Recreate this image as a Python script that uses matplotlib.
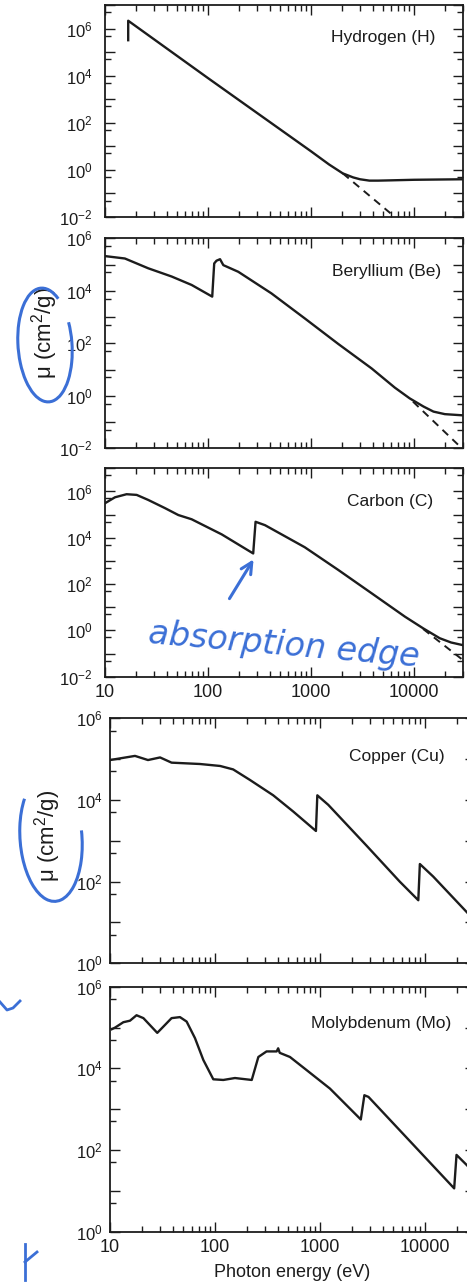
import numpy as np
import matplotlib
matplotlib.use('Agg')
import matplotlib.pyplot as plt
from matplotlib.ticker import LogLocator, FuncFormatter, NullFormatter, FixedLocator
from matplotlib.patches import Arc

plt.rcParams['font.family'] = ['Liberation Sans', 'DejaVu Sans']
plt.rcParams['mathtext.fontset'] = 'custom'
plt.rcParams['mathtext.rm'] = 'Liberation Sans'
plt.rcParams['mathtext.it'] = 'Liberation Sans:italic'
plt.rcParams['mathtext.bf'] = 'Liberation Sans:bold'

# --- data (eV, cm^2/g) ---
h_energy = [16.8, 16.8, 100, 1000, 1500, 2040, 2570, 3000, 3700, 4500, 6000, 10000, 30000]
h_mu = [3.2e5, 2.15e6, 7.9e3, 6.2, 1.7, 0.71, 0.48, 0.4, 0.35, 0.35, 0.36, 0.38, 0.4]
h_pe_energy = [2040, 6550]
h_pe_mu = [0.71, 0.01]

be_energy = [10, 15.6, 26.3, 44.4, 69.4, 110, 115, 121, 131, 141, 197, 413, 871,
             1840, 3890, 6530, 9100, 12400, 15500, 20000, 30000]
be_mu = [2.1e5, 1.7e5, 7.2e4, 3.5e4, 1.67e4, 6.0e3, 1.1e5, 1.4e5, 1.6e5, 9.5e4,
         5.3e4, 8e3, 890, 95, 11, 2.05, 0.8, 0.39, 0.25, 0.2, 0.18]
be_pe_energy = [9800, 28500]
be_pe_mu = [0.6, 0.011]

c_energy = [10, 12.5, 16.2, 20.3, 26.3, 38.3, 51.5, 69.4, 136, 275, 290, 358,
            871, 1840, 3890, 8200, 12300, 17800, 23000, 30000]
c_mu = [3.1e5, 5.6e5, 7.6e5, 7.1e5, 4.3e5, 1.9e5, 9.6e4, 6.3e4, 1.4e4, 2.1e3,
        4.9e4, 3.5e4, 3.9e3, 410, 40, 3.9, 1.23, 0.46, 0.3, 0.23]
c_pe_energy = [12300, 30000]
c_pe_mu = [1.15, 0.052]

cu_energy = [10, 17.3, 23, 30, 38.6, 72, 112, 149, 215, 359, 557, 916, 944,
             1200, 2780, 5760, 8650, 8950, 12000, 25000, 30000]
cu_mu = [9.5e4, 1.2e5, 9.5e4, 1.1e5, 8.2e4, 7.6e4, 6.8e4, 5.6e4, 3.1e4, 1.3e4,
         5.2e3, 1.74e3, 1.3e4, 7.6e3, 760, 100, 35, 270, 133, 18, 11]

mo_energy = [10.4, 11.2, 13.4, 15.5, 17.9, 20.8, 24, 28.2, 32.2, 38.6, 46.4,
             53.7, 64.5, 77.5, 96.4, 120, 155, 224, 259, 310, 387, 400, 414,
             518, 745, 1245, 2450, 2650, 2900, 19000, 20000, 25000, 30000]
mo_mu = [9.1e4, 1.0e5, 1.35e5, 1.47e5, 2.0e5, 1.7e5, 1.15e5, 7.4e4, 1.05e5,
         1.7e5, 1.8e5, 1.4e5, 5.5e4, 1.6e4, 5.4e3, 5.2e3, 5.8e3, 5.2e3, 1.9e4,
         2.6e4, 2.6e4, 3.1e4, 2.4e4, 1.9e4, 9.1e3, 3.2e3, 560, 2.2e3, 2.0e3,
         11.5, 76, 43, 26]

x_ticks = [10, 100, 1000, 10000]
names = ['Hydrogen (H)', 'Beryllium (Be)', 'Carbon (C)', 'Copper (Cu)', 'Molybdenum (Mo)']

W, H = 467, 1283
fig = plt.figure(figsize=(W / 100, H / 100), dpi=100)
ink = '#1c1c1c'
blue = '#3b6fd6'


def add_panel(left, top, right, bottom):
    return fig.add_axes([left / W, 1 - bottom / H, (right - left) / W, (bottom - top) / H])


def even_pow(v, pos):
    e = int(round(np.log10(v)))
    return '$10^{%d}$' % e if e % 2 == 0 else ''


def style(ax, ylim, xlabels, ypad):
    ax.set_xscale('log')
    ax.set_yscale('log')
    ax.set_xlim(10, 30000)
    ax.set_ylim(*ylim)
    ax.xaxis.set_major_locator(FixedLocator(x_ticks))
    ax.xaxis.set_minor_locator(LogLocator(base=10, subs=np.arange(2, 10), numticks=30))
    ax.yaxis.set_major_locator(LogLocator(base=10, numticks=30))
    ax.yaxis.set_minor_locator(LogLocator(base=10, subs=[5], numticks=30))
    ax.yaxis.set_major_formatter(FuncFormatter(even_pow))
    ax.yaxis.set_minor_formatter(NullFormatter())
    ax.xaxis.set_minor_formatter(NullFormatter())
    if xlabels:
        ax.xaxis.set_major_formatter(FuncFormatter(lambda v, p: '%d' % v))
    else:
        ax.xaxis.set_major_formatter(NullFormatter())
    ax.tick_params(which='both', direction='in', top=True, right=True,
                   width=1.0, color=ink, labelcolor=ink)
    ax.tick_params(which='major', length=7)
    ax.tick_params(which='minor', length=4.5)
    ax.tick_params(axis='y', pad=ypad, labelsize=12)
    ax.tick_params(axis='x', pad=5, labelsize=13)
    for s in ax.spines.values():
        s.set_linewidth(1.3)
        s.set_color(ink)


ax_h = add_panel(105, 5, 463, 217)
ax_be = add_panel(105, 238.3, 463, 448.3)
ax_c = add_panel(105, 468.3, 463, 676.7)
ax_cu = add_panel(110, 718.3, 475, 963.3)
ax_mo = add_panel(110, 986.7, 475, 1231.7)

style(ax_h, (1e-2, 1e7), False, 9)
style(ax_be, (1e-2, 1e6), False, 9)
style(ax_c, (1e-2, 1e7), True, 9)
style(ax_cu, (1, 1e6), False, 5)
style(ax_mo, (1, 1e6), True, 5)

lw = 1.7
ax_h.plot(h_energy, h_mu, color=ink, lw=lw)
ax_h.plot(h_pe_energy, h_pe_mu, color=ink, lw=1.4, ls=(0, (4, 3)))
ax_be.plot(be_energy, be_mu, color=ink, lw=lw)
ax_be.plot(be_pe_energy, be_pe_mu, color=ink, lw=1.4, ls=(0, (4, 3)))
ax_c.plot(c_energy, c_mu, color=ink, lw=lw)
ax_c.plot(c_pe_energy, c_pe_mu, color=ink, lw=1.4, ls=(0, (4, 3)))
ax_cu.plot(cu_energy, cu_mu, color=ink, lw=lw)
ax_mo.plot(mo_energy, mo_mu, color=ink, lw=lw)

name_pos = [(0.922, 0.845), (0.94, 0.84), (0.916, 0.84), (0.918, 0.843), (0.936, 0.85)]
for ax, name, (tx, ty) in zip([ax_h, ax_be, ax_c, ax_cu, ax_mo], names, name_pos):
    ax.text(tx, ty, name, transform=ax.transAxes, ha='right', va='center',
            fontsize=12.5, color=ink)

for ax, xl, yl in [(ax_be, -0.126, 0.55), (ax_cu, -0.13, 0.52)]:
    ax.set_ylabel('\u03bc (cm$^2$/g)', fontsize=16, color=ink)
    ax.yaxis.set_label_coords(xl, yl)

ax_mo.set_xlabel('Photon energy (eV)', fontsize=13, color=ink, labelpad=6)

# handwritten notes on the scan
ov = fig.add_axes([0, 0, 1, 1], zorder=10)
ov.set_xlim(0, W)
ov.set_ylim(H, 0)
ov.axis('off')
ov.patch.set_alpha(0)
ov.add_patch(Arc((45, 345), 54, 114, angle=-4, theta1=-40, theta2=290, color=blue, lw=2.2))
ov.add_patch(Arc((51, 838), 62, 127, angle=-4, theta1=-10, theta2=240, color=blue, lw=2.2))
ov.annotate('', xy=(255, 557), xytext=(228, 601),
            arrowprops=dict(arrowstyle='->', color=blue, lw=2.2, mutation_scale=20))
ov.text(284, 645, 'absorption edge', color=blue, fontsize=24, style='italic',
        rotation=-5, ha='center', va='center', family='DejaVu Sans')
ov.plot([0, 7, 13, 20], [1002, 1010, 1008, 1001], color=blue, lw=2)
ov.plot([25, 25], [1244, 1280], color=blue, lw=2)
ov.plot([25, 37], [1262, 1252], color=blue, lw=2)

fig.savefig('out.png', dpi=100, facecolor='white')
